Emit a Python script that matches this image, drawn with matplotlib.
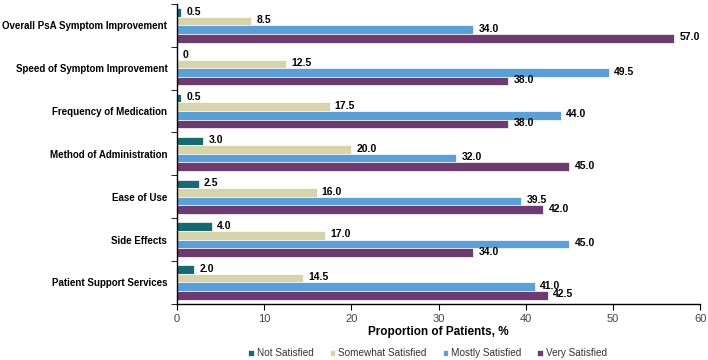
## Patient satisfaction by attribute, horizontal grouped bars
import numpy as np
import matplotlib
matplotlib.use("Agg")
import matplotlib.pyplot as plt

plt.rcParams['font.family'] = ['Liberation Sans', 'DejaVu Sans']

categories = ["Overall PsA Symptom Improvement", "Speed of Symptom Improvement",
              "Frequency of Medication", "Method of Administration",
              "Ease of Use", "Side Effects", "Patient Support Services"]
series_names = ["Not Satisfied", "Somewhat Satisfied", "Mostly Satisfied", "Very Satisfied"]
not_satisfied = [0.5, 0, 0.5, 3.0, 2.5, 4.0, 2.0]
somewhat_satisfied = [8.5, 12.5, 17.5, 20.0, 16.0, 17.0, 14.5]
mostly_satisfied = [34.0, 49.5, 44.0, 32.0, 39.5, 45.0, 41.0]
very_satisfied = [57.0, 38.0, 38.0, 45.0, 42.0, 34.0, 42.5]

colors = ['#176a72', '#d7d4ab', '#5b9fd6', '#6c3b6f']
all_series = [not_satisfied, somewhat_satisfied, mostly_satisfied, very_satisfied]

fig = plt.figure(figsize=(7.08, 3.6), dpi=100)
ax = fig.add_axes([0.25, 0.156, 0.739, 0.833])

y = np.arange(len(categories))
h = 0.2
offsets = [-0.3, -0.1, 0.1, 0.3]

for i, (vals, name) in enumerate(zip(all_series, series_names)):
    bars = ax.barh(y + offsets[i], vals, height=h, color=colors[i], label=name,
                   edgecolor='white', linewidth=0.5)
    for b, v in zip(bars, vals):
        txt = "0" if v == 0 else "%.1f" % v
        ax.text(b.get_width() + 0.6, b.get_y() + b.get_height() / 2 - 0.02, txt,
                va='center', ha='left', fontsize=7.5, fontweight='bold')

ax.set_ylim(len(categories) - 0.5, -0.5)
ax.set_xlim(0, 60)
ax.set_yticks(y)
ax.set_yticklabels(categories, fontsize=7, fontweight='bold')
ax.tick_params(axis='y', length=0, pad=7)
ax.set_yticks(np.arange(-0.5, len(categories), 1.0), minor=True)
ax.tick_params(axis='y', which='minor', length=4, direction='out')
ax.set_xticks(np.arange(0, 61, 10))
ax.tick_params(axis='x', labelsize=8, length=4, direction='out', labelcolor='#444444')
ax.set_xlabel("Proportion of Patients, %", fontsize=8.5, fontweight='bold', labelpad=1)

for s in ['top', 'right']:
    ax.spines[s].set_visible(False)
for s in ['left', 'bottom']:
    ax.spines[s].set_color('black')
    ax.spines[s].set_linewidth(1.0)

leg = fig.legend(loc='lower center', bbox_to_anchor=(0.604, -0.02), ncol=4, frameon=False,
                 fontsize=7.2, handlelength=0.55, handleheight=0.55, handletextpad=0.3,
                 columnspacing=1.6)
for t in leg.get_texts():
    t.set_color('#333333')

fig.savefig("out.png", dpi=100)
